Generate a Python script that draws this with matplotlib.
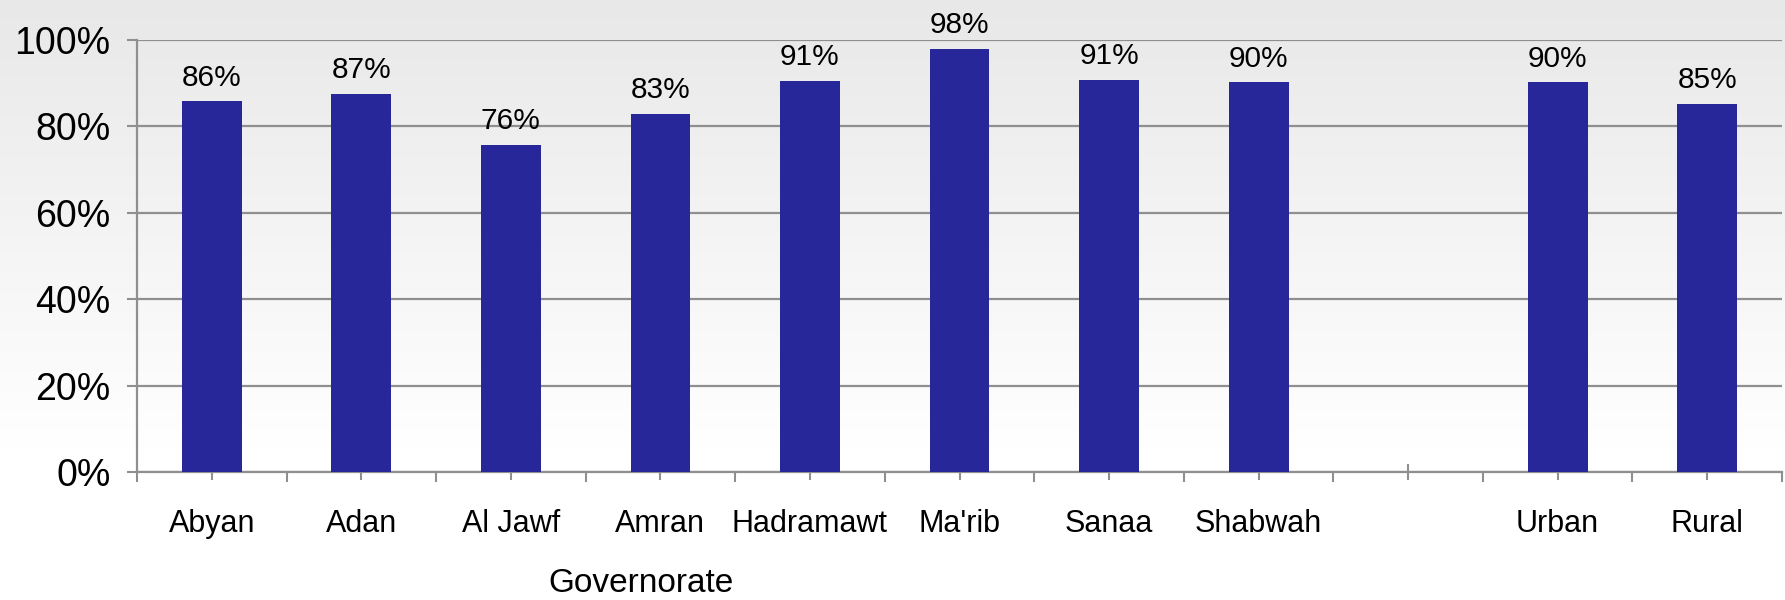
import matplotlib.pyplot as plt
import numpy as np
from matplotlib.ticker import FixedLocator, PercentFormatter

plt.rcParams['font.family'] = ['Liberation Sans', 'DejaVu Sans']

# data
governorates = ['Abyan', 'Adan', 'Al Jawf', 'Amran', 'Hadramawt', "Ma'rib", 'Sanaa', 'Shabwah']
gov_values = [85.8, 87.5, 75.8, 82.9, 90.5, 98.0, 90.8, 90.2]
residence = ['Urban', 'Rural']
res_values = [90.2, 85.3]
gov_labels = ['86%', '87%', '76%', '83%', '91%', '98%', '91%', '90%']
res_labels = ['90%', '85%']

# one empty slot between the two groups
labels = governorates + [''] + residence
values = gov_values + [np.nan] + res_values
bar_text = gov_labels + [''] + res_labels
x = np.arange(len(labels))

bar_col = '#27279a'
grey = '#8f8f8f'

fig = plt.figure(figsize=(17.85, 6), dpi=100)

# grey-to-white background, top to bottom
bg = fig.add_axes([0, 0, 1, 1], zorder=-1)
grad = np.concatenate([np.linspace(0.91, 1.0, 300), np.ones(100)])
img = np.repeat(grad[:, None], 4, axis=1)
bg.imshow(np.dstack([img, img, img]), aspect='auto', extent=[0, 1, 0, 1],
          interpolation='bilinear')
bg.set_axis_off()

ax = fig.add_axes([137/1785, 1 - 472/600, (1782 - 137)/1785, (472 - 40)/600])
ax.patch.set_alpha(0)

ax.bar(x, values, width=0.4, color=bar_col, zorder=3)
for xi, v, t in zip(x, values, bar_text):
    if t:
        ax.annotate(t, (xi, v), xytext=(0, 7), textcoords='offset points',
                    ha='center', va='bottom', fontsize=21.5, color='black')

ax.set_xlim(-0.5, len(labels) - 0.5)
ax.set_ylim(0, 100)
ax.yaxis.set_major_locator(FixedLocator([0, 20, 40, 60, 80, 100]))
ax.yaxis.set_major_formatter(PercentFormatter(decimals=0))
ax.grid(axis='y', color=grey, linewidth=1.6, zorder=0)

ax.set_xticks(x)
ax.set_xticklabels(labels)
ax.xaxis.set_minor_locator(FixedLocator(np.arange(len(labels) + 1) - 0.5))
ax.tick_params(axis='x', which='major', direction='inout', length=11, width=1.5,
               color=grey, labelsize=22, pad=21)
ax.tick_params(axis='x', which='minor', direction='out', length=7, width=1.5, color=grey)
ax.tick_params(axis='y', direction='out', length=7, width=1.5, color=grey,
               labelsize=27, pad=12)

for s in ['top', 'right']:
    ax.spines[s].set_visible(False)
for s in ['left', 'bottom']:
    ax.spines[s].set_color(grey)
    ax.spines[s].set_linewidth(1.6)

fig.text(641/1785, 1 - 584/600, 'Governorate', ha='center', va='center', fontsize=24)

fig.savefig('out.png', dpi=100)
